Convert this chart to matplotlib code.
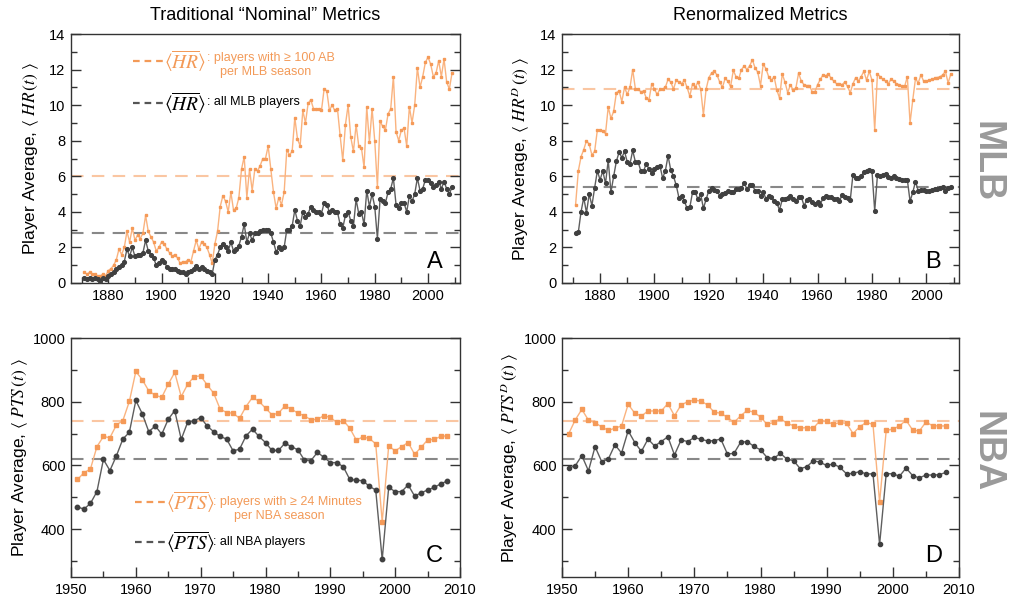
import numpy as np
import matplotlib
matplotlib.use("Agg")
import matplotlib.pyplot as plt
from matplotlib.lines import Line2D

plt.rcParams['font.family'] = ['Liberation Sans', 'DejaVu Sans']
plt.rcParams['mathtext.fontset'] = 'stix'

# ---------------- data ----------------
mlb_years = list(range(1871, 2010))
nba_years = list(range(1951, 2009))

hr_nominal_100ab = [
    0.6, 0.5, 0.6, 0.5, 0.5, 0.4, 0.4, 0.5, 0.4,
    0.7, 0.8, 1.0, 1.3, 1.9, 1.6, 2.0, 2.9, 2.3, 3.1,
    2.4, 2.7, 2.5, 2.8, 3.8, 2.9, 2.6, 2.3, 1.8, 2.0,
    2.3, 2.2, 1.9, 1.7, 1.5, 1.6, 1.4, 1.1, 1.2, 1.2,
    1.3, 1.2, 1.8, 2.4, 1.9, 2.3, 2.2, 2.0, 1.6, 1.1,
    2.2, 2.9, 4.3, 4.9, 4.6, 4.0, 5.1, 4.1, 4.2, 4.8,
    6.4, 7.1, 4.8, 6.4, 5.2, 6.4, 6.3, 6.6, 7.0, 7.0,
    7.7, 6.4, 5.1, 4.2, 4.8, 4.4, 5.1, 7.5, 7.2, 7.4,
    9.3, 8.1, 7.7, 9.7, 9.0, 10.1, 10.3, 9.8, 9.8, 9.8,
    9.7, 10.9, 10.8, 9.7, 10.0, 9.7, 9.8, 8.3, 6.9, 8.9,
    10.0, 8.2, 7.4, 8.9, 7.7, 7.6, 6.5, 9.9, 7.9, 9.8,
    8.0, 5.4, 9.1, 8.8, 8.6, 9.5, 9.8, 11.6, 8.5, 8.0,
    8.6, 8.7, 7.7, 9.9, 9.0, 10.0, 12.1, 11.0, 11.6, 12.4,
    12.7, 12.3, 11.6, 11.8, 12.5, 11.6, 12.6, 11.3, 10.9, 11.8,
]
hr_nominal_all = [
    0.3, 0.2, 0.3, 0.2, 0.3, 0.2, 0.1, 0.3, 0.2,
    0.4, 0.5, 0.6, 0.8, 0.9, 1.0, 1.2, 1.9, 1.5, 2.0,
    1.5, 1.6, 1.6, 1.7, 2.4, 1.8, 1.6, 1.4, 1.0, 1.1,
    1.3, 1.2, 0.9, 0.8, 0.8, 0.8, 0.7, 0.6, 0.6, 0.5,
    0.6, 0.7, 0.8, 0.95, 0.8, 0.9, 0.8, 0.7, 0.6, 0.5,
    1.3, 1.6, 2.0, 2.2, 2.0, 1.8, 2.3, 1.8, 1.9, 2.1,
    2.6, 3.3, 2.3, 2.8, 2.4, 2.8, 2.8, 2.9, 3.0, 3.0,
    3.0, 2.8, 2.3, 1.75, 2.0, 1.9, 2.0, 3.0, 3.0, 3.2,
    4.1, 3.5, 3.2, 4.0, 3.7, 3.9, 4.3, 4.1, 4.0, 4.0,
    3.9, 4.5, 4.4, 4.0, 4.1, 4.0, 4.0, 3.3, 3.1, 3.8,
    4.0, 3.5, 3.2, 4.7, 3.9, 4.0, 3.3, 5.2, 4.3, 5.0,
    4.3, 2.5, 4.7, 4.6, 4.5, 5.1, 5.3, 5.9, 4.4, 4.2,
    4.5, 4.5, 4.0, 4.9, 4.6, 5.0, 5.9, 5.2, 5.3, 5.8,
    5.8, 5.6, 5.4, 5.5, 5.7, 5.3, 5.7, 5.3, 5.0, 5.4,
]
hr_renorm_100ab = [
    4.4, 6.3, 7.1, 7.5, 8.0, 7.8, 7.2, 7.4, 8.6,
    8.6, 8.55, 8.4, 9.9, 9.25, 9.65, 10.7, 10.8, 10.2, 11.0,
    10.6, 11.0, 12.0, 10.9, 10.9, 10.75, 10.8, 10.4, 10.3, 11.2,
    10.9, 10.6, 10.9, 10.9, 11.0, 11.45, 11.3, 10.9, 11.4, 11.3,
    11.2, 11.4, 11.0, 10.5, 11.2, 11.0, 11.3, 10.9, 9.45, 10.9,
    11.55, 11.8, 11.9, 11.7, 11.3, 11.0, 11.5, 11.35, 11.05, 11.95,
    11.6, 11.5, 12.0, 12.2, 12.0, 12.2, 12.55, 12.1, 11.85, 11.1,
    12.3, 12.05, 11.6, 11.4, 11.6, 10.85, 10.4, 11.75, 11.3, 10.7,
    11.15, 10.85, 10.95, 11.8, 11.35, 11.15, 11.1, 11.1, 10.75, 10.75,
    11.15, 11.45, 11.7, 11.65, 11.75, 11.5, 11.35, 11.2, 11.2, 11.15,
    11.3, 11.05, 10.7, 11.2, 11.55, 11.35, 11.6, 11.9, 11.4, 11.9,
    11.4, 8.6, 11.75, 11.6, 11.45, 11.35, 11.2, 11.45, 11.35, 11.2,
    11.15, 11.05, 11.05, 11.6, 9.0, 10.3, 11.5, 11.25, 11.7, 11.35,
    11.35, 11.4, 11.45, 11.5, 11.55, 11.6, 11.7, 11.9, 11.25, 11.75,
]
hr_renorm_all = [
    2.8, 2.85, 4.0, 4.8, 3.95, 5.0, 4.35, 5.35, 6.3,
    5.8, 6.3, 5.6, 6.9, 5.1, 6.0, 6.85, 7.35, 7.05, 7.4,
    6.8, 6.7, 7.45, 6.8, 6.8, 6.3, 6.3, 6.7, 6.4, 6.2,
    6.4, 6.5, 6.6, 5.9, 6.3, 7.15, 6.35, 6.0, 5.5, 4.8,
    4.9, 4.6, 4.2, 4.25, 5.1, 5.1, 4.7, 5.0, 4.2, 4.7,
    5.2, 5.35, 5.25, 5.2, 4.9, 5.0, 5.05, 5.15, 5.1, 5.1,
    5.3, 5.3, 5.35, 5.6, 5.3, 5.5, 5.5, 5.2, 5.15, 4.9,
    5.1, 4.75, 4.9, 4.85, 4.6, 4.5, 4.1, 4.7, 4.75, 4.8,
    4.9, 4.75, 4.6, 4.85, 4.85, 4.35, 4.65, 4.7, 4.55, 4.45,
    4.55, 4.4, 4.8, 4.9, 4.85, 4.85, 4.75, 4.7, 4.6, 4.95,
    4.85, 4.8, 4.65, 6.1, 5.9, 5.9, 6.0, 6.25, 6.3, 6.35,
    6.3, 4.05, 6.05, 6.0, 6.1, 6.15, 5.95, 5.9, 6.0, 5.9,
    5.85, 5.8, 5.8, 5.8, 4.6, 5.1, 5.7, 5.2, 5.25, 5.25,
    5.15, 5.2, 5.25, 5.3, 5.3, 5.35, 5.4, 5.2, 5.35, 5.4,
]

pts_nominal_24min = [
    556, 577, 589, 659, 691, 687, 727, 741, 801, 895,
    869, 834, 820, 814, 855, 892, 816, 855, 879, 881,
    853, 827, 777, 766, 764, 748, 785, 814, 801, 780,
    759, 764, 787, 777, 764, 756, 743, 745, 756, 751,
    735, 741, 717, 680, 689, 685, 668, 423, 661, 646,
    659, 672, 635, 657, 680, 682, 691, 693,
]
pts_nominal_all = [
    470, 463, 481, 518, 619, 584, 630, 683, 704, 804,
    762, 706, 724, 698, 745, 772, 682, 736, 741, 750,
    724, 706, 691, 683, 646, 651, 693, 714, 691, 672,
    647, 647, 670, 659, 649, 617, 615, 641, 626, 609,
    609, 596, 556, 554, 552, 535, 523, 305, 531, 518,
    518, 539, 504, 514, 523, 531, 542, 551,
]
pts_renorm_24min = [
    699, 743, 776, 742, 734, 721, 710, 717, 724, 792,
    764, 755, 771, 771, 771, 794, 756, 790, 800, 805,
    802, 790, 767, 764, 751, 735, 756, 773, 767, 752,
    729, 735, 748, 732, 725, 717, 719, 717, 741, 738,
    729, 735, 732, 700, 722, 735, 729, 485, 710, 714,
    724, 742, 711, 708, 736, 725, 724, 724,
]
pts_renorm_all = [
    592, 599, 631, 583, 659, 612, 620, 665, 639, 709,
    672, 644, 683, 661, 675, 690, 633, 680, 675, 688,
    682, 677, 678, 683, 636, 638, 673, 675, 660, 649,
    625, 622, 638, 620, 615, 590, 596, 615, 610, 600,
    605, 594, 574, 575, 581, 573, 574, 352, 574, 574,
    566, 592, 568, 561, 570, 570, 571, 578,
]

mean_hr_nominal = [6.0, 2.8]
mean_hr_renorm = [10.9, 5.4]
mean_pts_nominal = [740, 620]
mean_pts_renorm = [740, 620]

panel_titles = ["Traditional \u201cNominal\u201d Metrics", "Renormalized Metrics"]

# ---------------- style ----------------
OR_LINE = '#FAB37F'
OR_MARK = '#F59A58'
OR_MEAN = '#FAC6A2'
BK_LINE = '#5e5e5e'
BK_MARK = '#404040'
BK_MEAN = '#888888'

W, H = 1013, 608
fig = plt.figure(figsize=(W / 100, H / 100), dpi=100)


def P(x, y):
    return (x / W, 1 - y / H)


def make_ax(x0, y0, x1, y1):
    return fig.add_axes([x0 / W, 1 - y1 / H, (x1 - x0) / W, (y1 - y0) / H])


axA = make_ax(71, 34, 460, 283)
axB = make_ax(562, 34, 959, 283)
axC = make_ax(71, 338, 460, 577)
axD = make_ax(562, 338, 959, 577)


def style(ax, xlim, ylim, xmaj, xmin, ymaj, ymin):
    ax.set_xlim(*xlim)
    ax.set_ylim(*ylim)
    ax.set_xticks(xmaj)
    ax.set_xticks(xmin, minor=True)
    ax.set_yticks(ymaj)
    ax.set_yticks(ymin, minor=True)
    ax.tick_params(which='both', direction='in', left=True, right=True,
                   bottom=True, top=False, color='#333333')
    ax.tick_params(which='major', length=7, width=1, labelsize=10.5, pad=4)
    ax.tick_params(which='minor', length=4, width=1)
    for s in ax.spines.values():
        s.set_color('#333333')
        s.set_linewidth(1.0)


def draw(ax, x, top, bottom, means, ms_top, ms_bot):
    ax.axhline(means[0], color=OR_MEAN, lw=1.5, dashes=(6, 4), zorder=1)
    ax.axhline(means[1], color=BK_MEAN, lw=1.5, dashes=(6, 4), zorder=1)
    ax.plot(x, top, color=OR_LINE, lw=1.0, marker='s', ms=ms_top,
            mfc=OR_MARK, mec=OR_MARK, zorder=3)
    ax.plot(x, bottom, color=BK_LINE, lw=1.0, marker='o', ms=ms_bot,
            mfc=BK_MARK, mec=BK_MARK, zorder=3)


draw(axA, mlb_years, hr_nominal_100ab, hr_nominal_all, mean_hr_nominal, 2.0, 2.7)
draw(axB, mlb_years, hr_renorm_100ab, hr_renorm_all, mean_hr_renorm, 2.0, 2.7)
draw(axC, nba_years, pts_nominal_24min, pts_nominal_all, mean_pts_nominal, 2.3, 3.2)
draw(axD, nba_years, pts_renorm_24min, pts_renorm_all, mean_pts_renorm, 2.3, 3.0)

for ax in (axA, axB):
    style(ax, (1866, 2012), (0, 14), range(1880, 2001, 20), range(1870, 2011, 10),
          range(0, 15, 2), range(0, 15, 1))
for ax in (axC, axD):
    style(ax, (1950, 2010), (250, 1000), range(1950, 2011, 10), range(1955, 2010, 10),
          range(400, 1001, 200), range(300, 1000, 200))

axA.set_ylabel(r'Player Average, $\langle\ HR\,(t)\ \rangle$', fontsize=12.5, labelpad=6)
axB.set_ylabel(r'Player Average, $\langle\ HR^{D}\,(t)\ \rangle$', fontsize=12.5, labelpad=6)
axC.set_ylabel(r'Player Average, $\langle\ PTS\,(t)\ \rangle$', fontsize=12.5, labelpad=2)
axD.set_ylabel(r'Player Average, $\langle\ PTS^{D}\,(t)\ \rangle$', fontsize=12.5, labelpad=2)

for ax, letter in zip((axA, axB, axC, axD), "ABCD"):
    ax.text(0.935, 0.04, letter, transform=ax.transAxes, fontsize=17,
            ha='center', va='bottom', color='black')

fig.text(*P(265, 15), panel_titles[0], ha='center', va='center', fontsize=13)
fig.text(*P(760, 15), panel_titles[1], ha='center', va='center', fontsize=13)

fig.text(*P(986, 162), 'MLB', rotation=-90, ha='center', va='center',
         fontsize=27, fontweight='bold', color='#9a9a9a')
fig.text(*P(986, 452), 'NBA', rotation=-90, ha='center', va='center',
         fontsize=27, fontweight='bold', color='#9a9a9a')


# ---------------- custom legends ----------------
def dash(x0, x1, y, color):
    fig.add_artist(Line2D([x0 / W, x1 / W], [1 - y / H, 1 - y / H],
                          transform=fig.transFigure, color=color, lw=1.6,
                          dashes=(3, 2.2)))


OR_TXT = '#F39A58'
# panel A
dash(133, 166, 61, OR_TXT)
fig.text(*P(185, 61), r'$\langle\overline{HR}\rangle$', ha='center', va='center',
         fontsize=14, color=OR_TXT)
fig.text(*P(207, 58), ': players with \u2265 100 AB', ha='left', va='center',
         fontsize=9, color=OR_TXT)
fig.text(*P(266, 72), 'per MLB season', ha='center', va='center',
         fontsize=9, color=OR_TXT)
dash(133, 166, 103, '#555555')
fig.text(*P(185, 103), r'$\langle\overline{HR}\rangle$', ha='center', va='center',
         fontsize=14, color='black')
fig.text(*P(207, 102), ': all MLB players', ha='left', va='center',
         fontsize=9, color='black')

# panel C
dash(135, 167, 502, OR_TXT)
fig.text(*P(190, 502), r'$\langle\overline{PTS}\rangle$', ha='center', va='center',
         fontsize=14, color=OR_TXT)
fig.text(*P(213, 502), ': players with \u2265 24 Minutes', ha='left', va='center',
         fontsize=9, color=OR_TXT)
fig.text(*P(279, 516), 'per NBA season', ha='center', va='center',
         fontsize=9, color=OR_TXT)
dash(135, 167, 542, '#555555')
fig.text(*P(190, 542), r'$\langle\overline{PTS}\rangle$', ha='center', va='center',
         fontsize=14, color='black')
fig.text(*P(213, 542), ': all NBA players', ha='left', va='center',
         fontsize=9, color='black')

fig.savefig('out.png', dpi=100)
